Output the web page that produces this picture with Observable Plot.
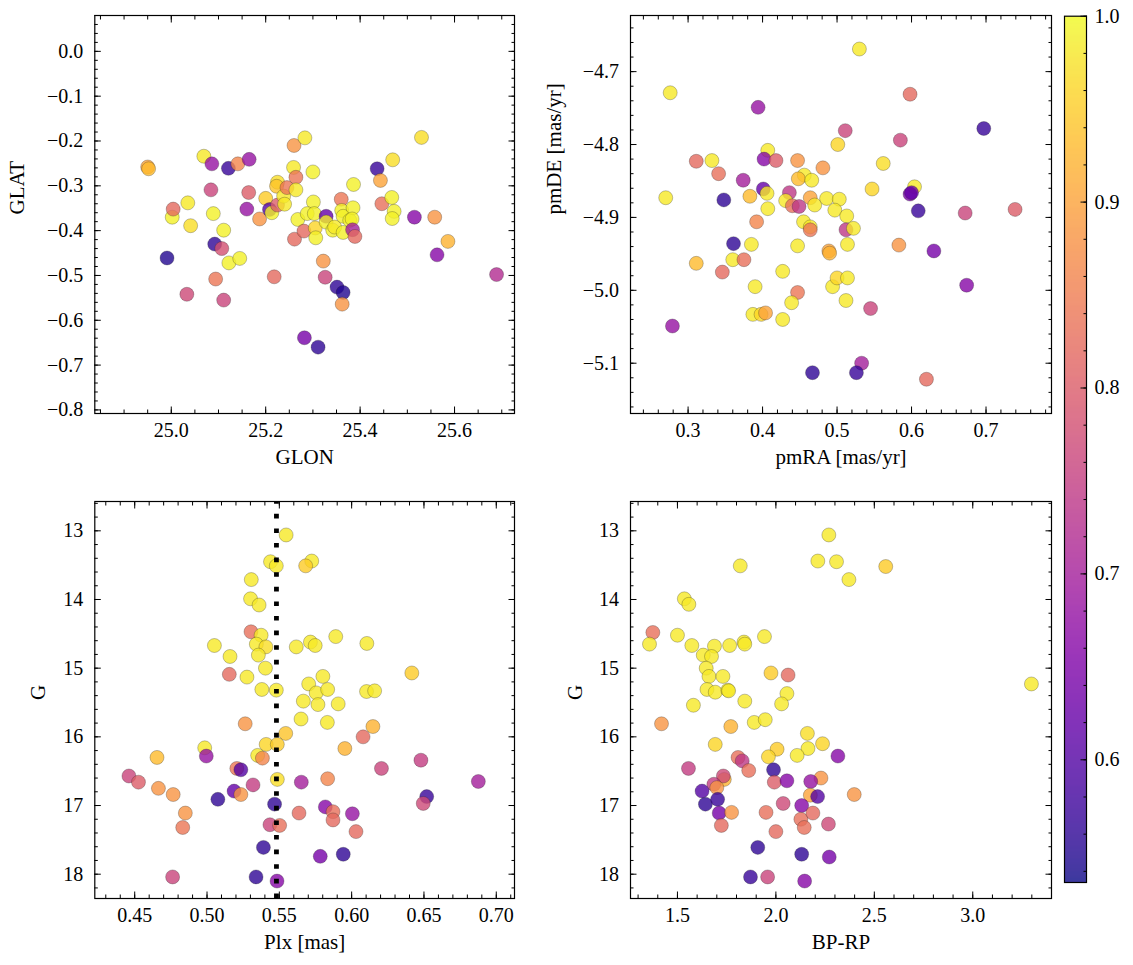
<!DOCTYPE html>
<html><head><meta charset="utf-8">
<script src="https://cdn.jsdelivr.net/npm/d3@7"></script>
<script src="https://cdn.jsdelivr.net/npm/@observablehq/plot@0.6"></script>
<style>
html,body{margin:0;padding:0;background:#fff;}
#fig{position:relative;width:1133px;height:965px;overflow:hidden;font-family:"Liberation Serif",serif;}
#fig svg{position:absolute;overflow:visible;}
#fig svg, #fig svg text{font-family:"Liberation Serif",serif !important;}
</style></head><body><div id="fig"></div>
<script>
// ---------- Panel 1: sky positions ----------
const glon = [24.950,24.952,25.002,25.004,24.991,25.033,25.035,25.041,25.069,25.086,
  25.084,25.089,25.092,25.107,25.094,25.111,25.111,25.122,25.145,25.121,
  25.141,25.165,25.164,25.160,25.187,25.200,25.208,25.213,25.225,25.218,
  25.225,25.223,25.238,25.240,25.245,25.260,25.283,25.259,25.264,25.264,
  25.268,25.261,25.281,25.300,25.301,25.288,25.303,25.305,25.306,25.322,
  25.326,25.328,25.328,25.342,25.346,25.360,25.361,25.364,25.364,25.378,
  25.385,25.383,25.384,25.389,25.351,25.364,25.362,25.282,25.311,25.386,
  25.436,25.443,25.446,25.469,25.467,25.472,25.468,25.515,25.530,25.558,
  25.563,25.586,25.689];
const glat = [-0.258,-0.262,-0.370,-0.352,-0.461,-0.542,-0.338,-0.389,-0.234,-0.251,
  -0.309,-0.362,-0.430,-0.440,-0.508,-0.555,-0.399,-0.472,-0.462,-0.261,
  -0.251,-0.241,-0.315,-0.352,-0.374,-0.328,-0.353,-0.360,-0.343,-0.503,
  -0.292,-0.301,-0.323,-0.341,-0.304,-0.210,-0.193,-0.259,-0.281,-0.309,
  -0.375,-0.419,-0.401,-0.269,-0.336,-0.362,-0.362,-0.394,-0.416,-0.468,
  -0.504,-0.368,-0.381,-0.399,-0.392,-0.330,-0.355,-0.368,-0.404,-0.377,
  -0.349,-0.374,-0.398,-0.413,-0.526,-0.538,-0.564,-0.639,-0.660,-0.297,
  -0.262,-0.288,-0.340,-0.242,-0.326,-0.357,-0.373,-0.370,-0.192,-0.370,
  -0.454,-0.424,-0.498];
const probSky = [0.90,0.93,0.99,0.82,0.55,0.77,0.98,0.97,0.98,0.68,
  0.76,0.99,0.56,0.78,0.84,0.76,0.99,0.99,0.99,0.57,
  0.86,0.68,0.80,0.68,0.88,0.95,0.60,0.99,0.80,0.82,
  0.97,0.94,0.98,0.98,0.84,0.88,0.98,0.98,0.84,0.98,
  0.99,0.82,0.82,0.99,0.99,0.99,0.99,0.96,0.99,0.88,
  0.76,0.62,0.99,0.99,0.98,0.84,0.99,0.99,0.99,0.99,
  0.99,0.99,0.70,0.82,0.56,0.55,0.88,0.64,0.56,0.99,
  0.57,0.90,0.83,0.97,0.99,0.99,0.99,0.66,0.97,0.88,
  0.66,0.92,0.72];

// ---------- Panel 2: proper motions ----------
const pmRA = [0.530,0.276,0.598,0.394,0.697,0.511,0.585,0.501,0.407,0.332,
  0.311,0.402,0.418,0.447,0.481,0.341,0.374,0.562,0.456,0.448,
  0.466,0.547,0.604,0.270,0.348,0.401,0.383,0.406,0.436,0.431,
  0.440,0.449,0.464,0.470,0.486,0.503,0.407,0.598,0.600,0.609,
  0.497,0.513,0.392,0.455,0.464,0.464,0.512,0.522,0.672,0.739,
  0.361,0.385,0.447,0.514,0.583,0.630,0.489,0.490,0.311,0.360,
  0.375,0.346,0.427,0.390,0.494,0.500,0.514,0.674,0.447,0.439,
  0.512,0.545,0.387,0.398,0.404,0.427,0.279,0.533,0.467,0.526,
  0.620];
const pmDE = [-4.669,-4.729,-4.731,-4.749,-4.778,-4.781,-4.794,-4.800,-4.808,-4.822,
  -4.823,-4.820,-4.822,-4.822,-4.832,-4.840,-4.849,-4.826,-4.842,-4.847,
  -4.849,-4.861,-4.858,-4.873,-4.876,-4.861,-4.871,-4.867,-4.866,-4.877,
  -4.884,-4.885,-4.873,-4.883,-4.874,-4.875,-4.888,-4.868,-4.866,-4.891,
  -4.890,-4.898,-4.906,-4.906,-4.913,-4.917,-4.917,-4.915,-4.894,-4.889,
  -4.936,-4.937,-4.939,-4.937,-4.938,-4.946,-4.946,-4.949,-4.963,-4.958,
  -4.958,-4.975,-4.974,-4.995,-4.995,-4.983,-4.983,-4.993,-5.003,-5.017,
  -5.014,-5.025,-5.033,-5.033,-5.031,-5.040,-5.049,-5.100,-5.113,-5.113,
  -5.122];
const probPM = [0.98,0.98,0.82,0.68,0.57,0.76,0.76,0.96,0.98,0.98,
  0.82,0.66,0.80,0.88,0.88,0.83,0.70,0.97,0.98,0.93,
  0.98,0.96,0.98,0.98,0.56,0.62,0.93,0.98,0.74,0.98,
  0.83,0.74,0.90,0.98,0.98,0.98,0.98,0.64,0.62,0.57,
  0.98,0.98,0.86,0.98,0.98,0.84,0.74,0.98,0.76,0.80,
  0.56,0.98,0.98,0.98,0.88,0.64,0.90,0.92,0.93,0.98,
  0.83,0.82,0.98,0.98,0.98,0.96,0.98,0.66,0.84,0.98,
  0.98,0.76,0.98,0.96,0.90,0.98,0.68,0.70,0.56,0.57,
  0.82];

// ---------- Panel 3: parallax vs G ----------
const plx = [0.5547,0.5439,0.5479,0.5724,0.5682,0.5306,0.5301,0.5360,0.5304,0.5374,
  0.5341,0.5407,0.5355,0.5051,0.5159,0.5404,0.5154,0.5276,0.5379,0.5479,
  0.5617,0.5715,0.5748,0.5890,0.6105,0.6416,0.5703,0.5801,0.5755,0.5834,
  0.5767,0.5666,0.5907,0.6103,0.6159,0.5650,0.5832,0.5264,0.6147,0.5544,
  0.5409,0.5486,0.6079,0.5953,0.4984,0.4654,0.5350,0.5383,0.4995,0.5206,
  0.5234,0.4460,0.4526,0.4664,0.4766,0.4850,0.4832,0.4762,0.5075,0.5187,
  0.5234,0.5318,0.5486,0.5652,0.5834,0.5467,0.5818,0.5871,0.5871,0.5636,
  0.5435,0.5502,0.6005,0.6030,0.5390,0.5783,0.5942,0.5339,0.5484,0.6206,
  0.6479,0.6519,0.6495,0.6876];
const gPlx = [13.06,13.45,13.51,13.44,13.51,13.71,13.99,14.08,14.47,14.52,
  14.65,14.69,14.81,14.67,14.83,15.00,15.09,15.13,15.31,15.32,
  14.69,14.62,14.67,14.54,14.64,15.07,15.23,15.12,15.36,15.31,
  15.53,15.48,15.52,15.34,15.33,15.74,15.79,15.81,15.85,15.95,
  16.11,16.11,16.00,16.17,16.16,16.30,16.27,16.31,16.28,16.46,
  16.48,16.57,16.66,16.75,16.84,17.11,17.32,18.04,16.91,16.79,
  16.84,16.70,16.62,16.66,16.61,16.98,17.02,17.09,17.21,17.11,
  17.28,17.29,17.12,17.38,17.61,17.74,17.71,18.04,18.10,16.46,
  16.34,16.87,16.97,16.65];
const probPlx = [0.98,0.98,0.98,0.98,0.95,0.98,0.98,0.98,0.83,0.98,
  0.98,0.97,0.98,0.98,0.98,0.98,0.82,0.98,0.98,0.98,
  0.98,0.98,0.98,0.98,0.98,0.95,0.98,0.98,0.98,0.98,
  0.98,0.98,0.98,0.98,0.98,0.98,0.98,0.88,0.92,0.94,
  0.96,0.95,0.82,0.92,0.98,0.93,0.98,0.86,0.68,0.84,
  0.60,0.76,0.80,0.88,0.88,0.88,0.84,0.76,0.56,0.62,
  0.88,0.75,0.97,0.70,0.86,0.56,0.66,0.83,0.82,0.82,
  0.76,0.83,0.68,0.82,0.56,0.64,0.56,0.56,0.66,0.76,
  0.75,0.57,0.77,0.70];
const plxMedian = [0.548];

// ---------- Panel 4: colour-magnitude ----------
const bprp = [2.269,1.819,2.213,2.308,2.558,2.371,1.535,1.558,1.375,1.358,
  1.500,1.573,1.631,1.688,1.673,1.765,1.838,1.842,1.942,1.646,
  1.660,1.731,1.650,1.692,1.756,1.760,1.581,1.842,1.975,2.062,
  2.056,2.029,1.890,1.946,1.419,1.771,2.160,1.692,2.237,2.163,
  2.006,1.962,2.108,2.315,1.808,1.829,1.862,1.556,1.988,1.992,
  2.056,2.229,2.177,2.175,2.212,2.398,1.738,1.733,1.685,1.700,
  1.625,1.642,1.704,1.712,1.775,1.723,1.950,2.037,2.131,2.127,
  2.188,2.144,2.267,2.000,1.908,2.131,2.271,1.871,1.958,2.146,
  3.298];
const gCmd = [13.06,13.51,13.44,13.45,13.52,13.71,13.99,14.07,14.48,14.65,
  14.52,14.67,14.81,14.68,14.83,14.67,14.62,14.65,14.54,15.00,
  15.12,15.12,15.31,15.35,15.32,15.33,15.54,15.48,15.07,15.10,
  15.37,15.52,15.79,15.75,15.81,15.85,15.95,16.11,16.10,16.17,
  16.18,16.29,16.27,16.28,16.30,16.35,16.49,16.46,16.48,16.66,
  16.64,16.60,16.65,16.85,16.87,16.84,16.62,16.57,16.69,16.74,
  16.79,16.98,16.91,17.11,17.10,17.29,17.10,16.97,17.00,17.20,
  17.11,17.32,17.27,17.38,17.61,17.71,17.75,18.04,18.04,18.10,
  15.23];
const probCmd = [0.98,0.98,0.98,0.98,0.95,0.98,0.98,0.98,0.83,0.98,
  0.98,0.98,0.98,0.98,0.98,0.98,0.98,0.98,0.98,0.98,
  0.98,0.98,0.98,0.98,0.98,0.98,0.98,0.98,0.95,0.82,
  0.98,0.98,0.98,0.98,0.88,0.92,0.97,0.96,0.96,0.98,
  0.95,0.96,0.98,0.66,0.83,0.74,0.83,0.75,0.56,0.80,
  0.66,0.88,0.68,0.90,0.60,0.88,0.92,0.77,0.75,0.88,
  0.60,0.56,0.57,0.64,0.88,0.82,0.83,0.77,0.66,0.83,
  0.82,0.83,0.77,0.82,0.56,0.56,0.64,0.57,0.76,0.66,
  0.98];

// ---------- ticks & colour ----------
const glonTicks = [25.0, 25.2, 25.4, 25.6];
const glatTicks = [0.0, -0.1, -0.2, -0.3, -0.4, -0.5, -0.6, -0.7, -0.8];
const pmRATicks = [0.3, 0.4, 0.5, 0.6, 0.7];
const pmDETicks = [-4.7, -4.8, -4.9, -5.0, -5.1];
const plxTicks = [0.45, 0.50, 0.55, 0.60, 0.65, 0.70];
const gTicks = [13, 14, 15, 16, 17, 18];
const bprpTicks = [1.5, 2.0, 2.5, 3.0];
const probTicks = [0.6, 0.7, 0.8, 0.9, 1.0];
const probRange = [0.534, 1.0];

const FONT = '"Liberation Serif", serif';
const colorOpt = {type: "linear", scheme: "plasma", domain: probRange};

function minorTicks([lo, hi], step) {
  const a = Math.ceil(Math.min(lo, hi) / step - 1e-9), b = Math.floor(Math.max(lo, hi) / step + 1e-9);
  return d3.range(a, b + 1).map(i => +(i * step).toFixed(6));
}

function tickMarks(xMajor, xMinor, yMajor, yMinor) {
  const m = [];
  for (const anchor of ["bottom", "top"]) {
    m.push(Plot.axisX(xMinor, {anchor, tickSize: -3.5, fill: "none", stroke: "black", strokeWidth: 1, label: null}));
    m.push(Plot.axisX(xMajor, {anchor, tickSize: -6.5, fill: "none", stroke: "black", strokeWidth: 1, label: null}));
  }
  for (const anchor of ["left", "right"]) {
    m.push(Plot.axisY(yMinor, {anchor, tickSize: -3.5, fill: "none", stroke: "black", strokeWidth: 1, label: null}));
    m.push(Plot.axisY(yMajor, {anchor, tickSize: -6.5, fill: "none", stroke: "black", strokeWidth: 1, label: null}));
  }
  return m;
}

function panel(cfg, box) {
  const xMinor = minorTicks(cfg.xDomain, cfg.xStep);
  const yMinor = minorTicks(cfg.yDomain, cfg.yStep);
  const svg = Plot.plot({
    width: box.width, height: box.height,
    marginLeft: box.ml, marginRight: box.width - box.ml - box.pw,
    marginTop: box.mt, marginBottom: box.height - box.mt - box.ph,
    style: {fontFamily: FONT, fontSize: "20px", background: "transparent", color: "black"},
    x: {domain: cfg.xDomain},
    y: {domain: cfg.yDomain, reverse: !!cfg.yReverse},
    color: colorOpt,
    marks: [
      Plot.dot(cfg.xs, {x: cfg.xs, y: cfg.ys, fill: cfg.ps, r: 7, fillOpacity: 0.8,
        stroke: "#222", strokeOpacity: 0.55, strokeWidth: 0.5}),
      ...(cfg.extra || []),
      Plot.frame({stroke: "black", strokeWidth: 1.2}),
      ...tickMarks(cfg.xMajor, xMinor, cfg.yMajor, yMinor),
      Plot.axisX(cfg.xMajor, {anchor: "bottom", tickSize: 0, tickPadding: 9, tickFormat: cfg.xFmt, label: null, fill: "black", fontFamily: FONT}),
      Plot.axisY(cfg.yMajor, {anchor: "left", tickSize: 0, tickPadding: 11.5, tickFormat: cfg.yFmt, label: null, fill: "black", fontFamily: FONT}),
      Plot.text([cfg.xLabel], {text: d => d, frameAnchor: "bottom", dy: 44, fontSize: 21, fontFamily: FONT, lineAnchor: "middle", fill: "black"}),
      Plot.text([cfg.yLabel], {text: d => d, frameAnchor: "left", dx: cfg.yLabelDx, rotate: -90, fontSize: 21, fontFamily: FONT, lineAnchor: "middle", fill: "black"})
    ]
  });
  svg.style.left = box.left + "px";
  svg.style.top = box.top + "px";
  return svg;
}

const fig = document.getElementById("fig");
const f1 = d3.format(".1f"), f2 = d3.format(".2f"), f0 = d3.format("d");

fig.append(panel({
  xs: glon, ys: glat, ps: probSky,
  xDomain: [24.838, 25.727], yDomain: [-0.808, 0.080],
  xMajor: glonTicks, yMajor: glatTicks, xStep: 0.05, yStep: 0.02,
  xFmt: f1, yFmt: f1, xLabel: "GLON", yLabel: "GLAT", yLabelDx: -78
}, {left: 0, top: 0, width: 540, height: 486, ml: 94.3, mt: 15, pw: 419.7, ph: 398}));

fig.append(panel({
  xs: pmRA, ys: pmDE, ps: probPM,
  xDomain: [0.2227, 0.7879], yDomain: [-5.169, -4.623],
  xMajor: pmRATicks, yMajor: pmDETicks, xStep: 0.02, yStep: 0.02,
  xFmt: f1, yFmt: f1, xLabel: "pmRA [mas/yr]", yLabel: "pmDE [mas/yr]", yLabelDx: -76
}, {left: 540, top: 0, width: 520, height: 486, ml: 90, mt: 15, pw: 421, ph: 398}));

fig.append(panel({
  xs: plx, ys: gPlx, ps: probPlx,
  xDomain: [0.4224, 0.7126], yDomain: [12.573, 18.354], yReverse: true,
  xMajor: plxTicks, yMajor: gTicks, xStep: 0.01, yStep: 0.2,
  xFmt: f2, yFmt: f0, xLabel: "Plx [mas]", yLabel: "G", yLabelDx: -57,
  extra: [Plot.ruleX(plxMedian, {x: d => d, y1: 18.354, y2: 12.573, stroke: "black", strokeWidth: 4.8, strokeDasharray: "4.6 10"})]
}, {left: 0, top: 486, width: 540, height: 479, ml: 94.3, mt: 15, pw: 419.7, ph: 397}));

fig.append(panel({
  xs: bprp, ys: gCmd, ps: probCmd,
  xDomain: [1.2615, 3.400], yDomain: [12.573, 18.354], yReverse: true,
  xMajor: bprpTicks, yMajor: gTicks, xStep: 0.1, yStep: 0.2,
  xFmt: f1, yFmt: f0, xLabel: "BP-RP", yLabel: "G", yLabelDx: -55
}, {left: 540, top: 486, width: 520, height: 479, ml: 90, mt: 15, pw: 421, ph: 397}));

// ---------- colour bar ----------
const cbar = Plot.plot({
  width: 93, height: 965,
  marginLeft: 24, marginRight: 47, marginTop: 15.7, marginBottom: 83,
  style: {fontFamily: FONT, fontSize: "20px", background: "transparent", color: "black"},
  x: {domain: [0, 1], axis: null},
  y: {domain: probRange},
  color: colorOpt,
  marks: [
    Plot.raster({x1: 0, x2: 1, y1: probRange[0], y2: probRange[1], width: 1, height: 400,
      fill: (x, y) => y, fillOpacity: 0.8}),
    Plot.frame({stroke: "black", strokeWidth: 1.2}),
    Plot.axisY(minorTicks(probRange, 0.02), {anchor: "right", tickSize: -3.5, fill: "none", stroke: "black", label: null}),
    Plot.axisY(probTicks, {anchor: "right", tickSize: -6.5, fill: "none", stroke: "black", label: null}),
    Plot.axisY(probTicks, {anchor: "right", tickSize: 0, tickPadding: 8, tickFormat: f1, label: null, fill: "black", fontFamily: FONT})
  ]
});
cbar.style.left = "1040px";
cbar.style.top = "0px";
fig.append(cbar);
</script></body></html>
